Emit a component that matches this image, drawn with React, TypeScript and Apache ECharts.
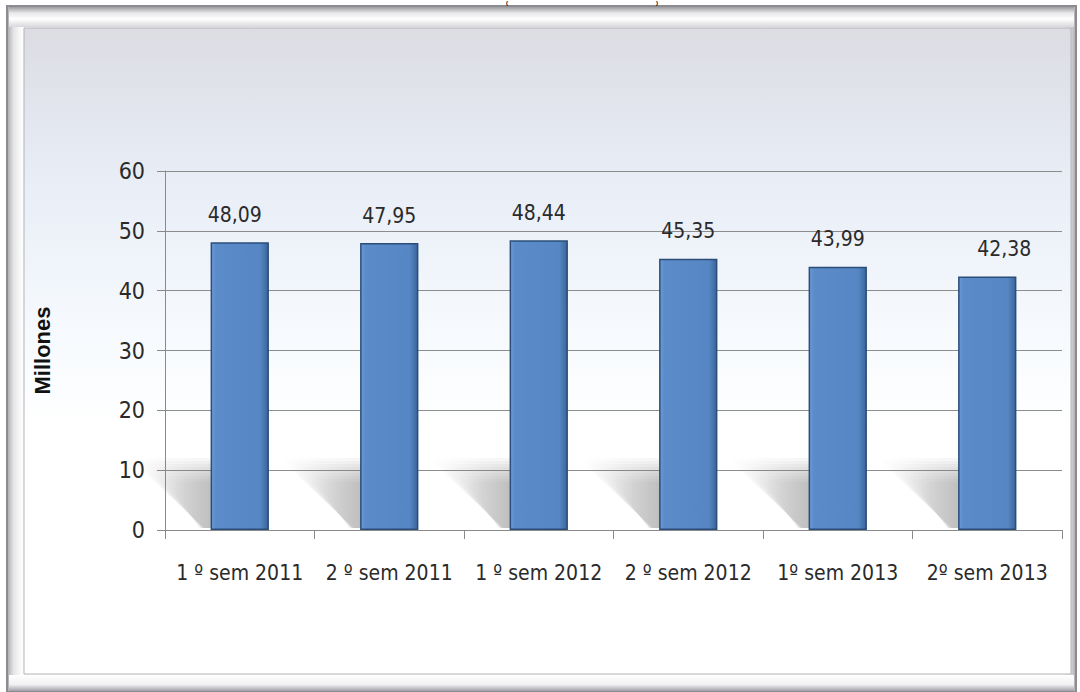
import React, { useEffect, useRef } from "react";
import * as echarts from "echarts";

const categories = ["1 º sem 2011", "2 º sem 2011", "1 º sem 2012", "2 º sem 2012", "1º sem 2013", "2º sem 2013"];
const values = [48.09, 47.95, 48.44, 45.35, 43.99, 42.38];
const yTicks = { min: 0, max: 60, interval: 10 };
const labelNudgeX = [-5, 0, 0, 0, 0, 17];
const yAxisName = "Millones";

const FONT = '"DejaVu Sans Condensed", "Open Sans", sans-serif';

export default function App() {
  const ref = useRef<HTMLDivElement>(null);
  useEffect(() => {
    document.body.style.margin = "0";
    const chart = echarts.init(ref.current!, null, { renderer: "svg" });
    const barRatio = 0.39;
    chart.setOption({
      animation: false,
      graphic: [
        {
          type: "rect",
          z: -10,
          silent: true,
          shape: { x: 7, y: 6, width: 1069, height: 686 },
          style: {
            fill: new echarts.graphic.LinearGradient(0, 0, 1, 0, [
              { offset: 0, color: "#a8a8ac" },
              { offset: 0.006, color: "#e4e4e6" },
              { offset: 0.013, color: "#fbfbfb" },
              { offset: 0.987, color: "#fbfbfb" },
              { offset: 0.994, color: "#e4e4e6" },
              { offset: 1, color: "#a8a8ac" },
            ]),
            stroke: "#8c8c90",
            lineWidth: 2,
          },
        },
        {
          type: "rect",
          z: -9,
          silent: true,
          shape: { x: 9, y: 7, width: 1065, height: 20 },
          style: {
            fill: new echarts.graphic.LinearGradient(0, 0, 0, 1, [
              { offset: 0, color: "#9c9ca0" },
              { offset: 0.3, color: "#e8e8ea" },
              { offset: 0.6, color: "#ffffff" },
              { offset: 1, color: "#d8d8dc" },
            ]),
          },
        },
        {
          type: "rect",
          z: -9,
          silent: true,
          shape: { x: 9, y: 675, width: 1065, height: 16 },
          style: {
            fill: new echarts.graphic.LinearGradient(0, 0, 0, 1, [
              { offset: 0, color: "#ffffff" },
              { offset: 0.6, color: "#f0f0f2" },
              { offset: 1, color: "#a0a0a8" },
            ]),
          },
        },
        {
          type: "rect",
          z: -8,
          silent: true,
          shape: { x: 24, y: 28, width: 1047, height: 646 },
          style: {
            fill: new echarts.graphic.LinearGradient(0, 0, 0, 1, [
              { offset: 0, color: "#dcdce2" },
              { offset: 0.08, color: "#e0e2ea" },
              { offset: 0.25, color: "#e9eef7" },
              { offset: 0.45, color: "#f5f9fd" },
              { offset: 0.62, color: "#ffffff" },
              { offset: 1, color: "#ffffff" },
            ]),
            stroke: "#b4b4ba",
            lineWidth: 1,
          },
        },
        {
          type: "text",
          silent: true,
          x: 507,
          y: 0,
          style: { text: "(", fontSize: 6, fontWeight: "bold", fontFamily: "Liberation Sans, Arial", fill: "#000", align: "center", verticalAlign: "top" },
        },
        {
          type: "text",
          silent: true,
          x: 657,
          y: 0,
          style: { text: ")", fontSize: 6, fontWeight: "bold", fontFamily: "Liberation Sans, Arial", fill: "#000", align: "center", verticalAlign: "top" },
        },
      ],
      grid: { left: 165, right: 18, top: 171, bottom: 162 },
      xAxis: {
        type: "category",
        data: categories,
        boundaryGap: true,
        axisLine: { show: true, lineStyle: { color: "#8a8a8a", width: 1 } },
        axisTick: { show: true, length: 9, lineStyle: { color: "#8a8a8a" } },
        axisLabel: { color: "#2a2a2a", fontSize: 21, fontFamily: FONT, margin: 32, interval: 0 },
      },
      yAxis: {
        type: "value",
        min: yTicks.min,
        max: yTicks.max,
        interval: yTicks.interval,
        name: yAxisName,
        nameLocation: "middle",
        nameGap: 112,
        nameRotate: 90,
        nameTextStyle: { fontSize: 22, fontWeight: "bold", fontFamily: "Liberation Sans, Arial", color: "#111" },
        axisLine: { show: true, lineStyle: { color: "#8a8a8a", width: 1 } },
        axisTick: { show: true, length: 8, lineStyle: { color: "#8a8a8a" } },
        axisLabel: { color: "#2a2a2a", fontSize: 23, fontFamily: FONT, margin: 20 },
        splitLine: { show: true, lineStyle: { color: "#8c8c8c", width: 1 } },
      },
      series: [
        {
          type: "custom",
          z: 1,
          silent: true,
          data: values.map((v, i) => [i, v]),
          renderItem: (params: any, api: any) => {
            const base = api.coord([api.value(0), 0]);
            const w = api.size([1, 0])[0] * barRatio;
            const xr = base[0] - w / 2 + 2;
            const y0 = base[1];
            const layers = [];
            for (let k = 0; k < 9; k++) {
              const s = k * 3;
              layers.push({
                type: "polygon",
                shape: {
                  points: [
                    [xr - 84 + s * 1.6, y0 - 72 + s],
                    [xr, y0 - 72 + s],
                    [xr, y0 - 2],
                    [xr - 8 - s * 0.2, y0 - 2],
                  ],
                },
                style: {
                  fill: new echarts.graphic.LinearGradient(0, 0, 1, 0, [
                    { offset: 0, color: "rgba(120,120,120,0)" },
                    { offset: 0.5, color: "rgba(120,120,120,0.04)" },
                    { offset: 1, color: "rgba(120,120,120,0.07)" },
                  ]),
                },
              });
            }
            return { type: "group", children: layers };
          },
        },
        {
          type: "bar",
          z: 2,
          data: values.map((v, i) => ({
            value: v,
            label: { offset: [labelNudgeX[i], 0] },
          })),
          barWidth: (barRatio * 100).toFixed(0) + "%",
          itemStyle: {
            color: new echarts.graphic.LinearGradient(0, 0, 1, 0, [
              { offset: 0, color: "#6b9bd6" },
              { offset: 0.08, color: "#5b8cc9" },
              { offset: 0.86, color: "#5687c4" },
              { offset: 1, color: "#3a6599" },
            ]),
            borderColor: "#2a4d7a",
            borderWidth: 1.5,
          },
          label: {
            show: true,
            position: "top",
            distance: 17,
            color: "#2a2a2a",
            fontSize: 21,
            fontFamily: FONT,
            formatter: (p: any) => p.value.toFixed(2).replace(".", ","),
          },
        },
      ],
    });
    return () => chart.dispose();
  }, []);
  return <div ref={ref} style={{ width: 1080, height: 692 }} />;
}
